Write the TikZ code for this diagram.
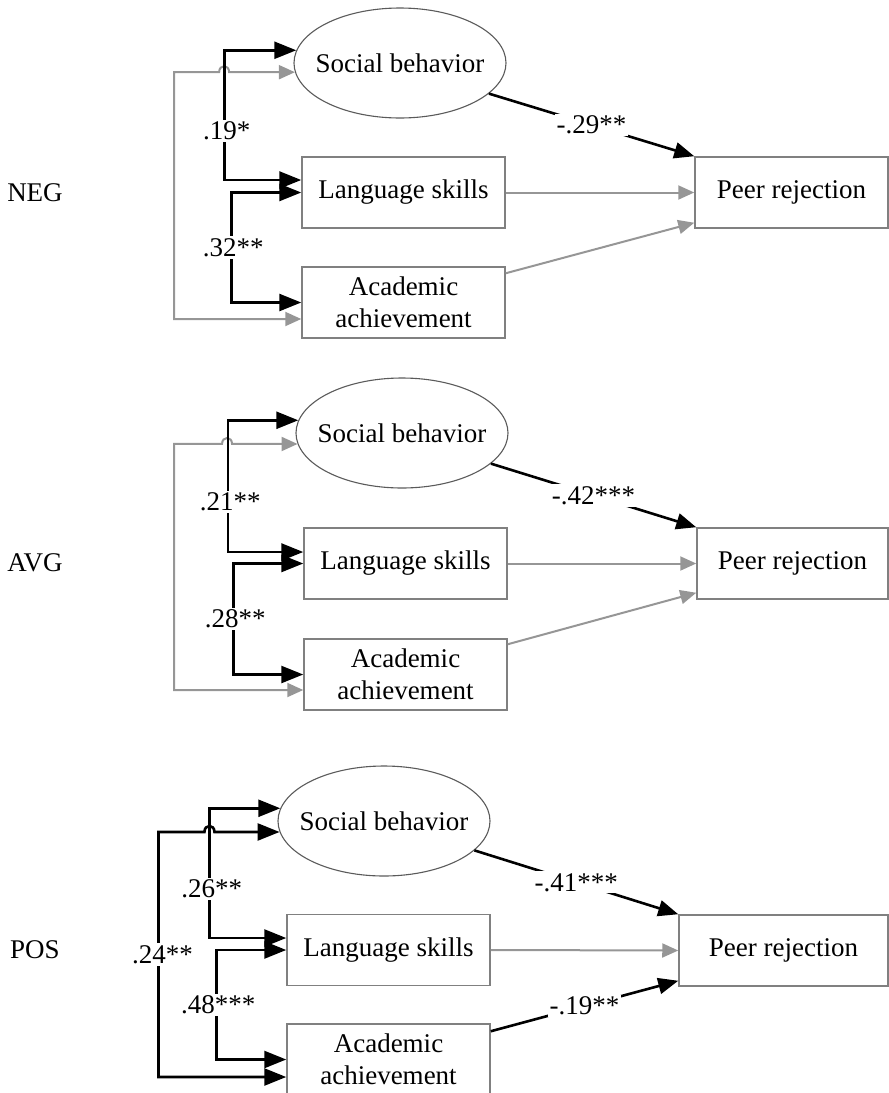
\documentclass[tikz,border=0pt]{standalone}
\usepackage{fontspec}
\setmainfont{Liberation Serif}
\usetikzlibrary{arrows.meta,shapes.geometric}
\definecolor{boxgray}{RGB}{128,128,128}
\definecolor{ellgray}{RGB}{90,90,90}
\definecolor{arrgray}{RGB}{150,150,150}
\begin{document}
\begin{tikzpicture}[x=1pt,y=-1pt,
  every node/.style={font=\fontsize{27}{32}\selectfont},
  box/.style={draw=boxgray,line width=1.5pt,minimum height=71pt,minimum width=203pt,inner sep=0pt,align=center},
  ell/.style={ellipse,draw=ellgray,line width=1.1pt,minimum width=212pt,minimum height=110pt,inner sep=0pt},
  lbl/.style={fill=white,inner sep=2pt},
  vlbl/.style={lbl,xshift=2pt},
  bk/.style={line width=2.6pt},
  bkboth/.style={bk,{Triangle[length=22pt,width=17pt]}-{Triangle[length=22pt,width=17pt]}},
  bkone/.style={bk,-{Triangle[length=20pt,width=16pt]}},
  gr/.style={draw=arrgray,line width=2pt},
  grone/.style={gr,-{Triangle[length=16pt,width=14pt]}},
  grboth/.style={gr,{Triangle[length=16pt,width=14pt]}-{Triangle[length=16pt,width=14pt]}},
]
\useasboundingbox (0,0) rectangle (889,1093);

% ---------- NEG ----------
\node[ell,label=center:Social behavior] (SB1) at (400,63) {};
\node[box] (LS1) at (403.5,192.5) {Language skills};
\node[box] (AA1) at (403.5,302.5) {Academic\\achievement};
\node[box,minimum width=193pt] (PR1) at (791.5,192.5) {Peer rejection};
\node (G1) at (35,193) {NEG};

\draw[bkone] (SB1.341) -- node[lbl]{-.29**} (PR1.north west);
\draw[grone] (LS1.east) -- (PR1.west);
\draw[grone] ([yshift=-7pt]AA1.north east) -- ([yshift=6pt]PR1.south west);
\draw[grboth] (SB1.185.5) -- ++(-65.8,0) .. controls +(0,-8) and +(0,-8) .. ++(-10,0) -- ++(-45,0) |- ([yshift=-16.5pt]AA1.west);
\draw[bkboth] (SB1.173.4) -- ++(-71.5,0) |- node[vlbl,pos=0.31]{.19*} ([yshift=12.5pt]LS1.west);
\draw[bkboth] (LS1.west) -- ++(-70,0) |- node[vlbl,pos=0.25]{.32**} (AA1.west);

% ---------- AVG ----------
\node[ell,label=center:Social behavior] (SB2) at (402,433) {};
\node[box] (LS2) at (405.5,563.5) {Language skills};
\node[box] (AA2) at (405.5,674.5) {Academic\\achievement};
\node[box,minimum width=191pt] (PR2) at (792.5,563.5) {Peer rejection};
\node (G2) at (35,563) {AVG};

\draw[bkone] (SB2.341.6) -- node[lbl]{-.42***} (PR2.north west);
\draw[grone] (LS2.east) -- (PR2.west);
\draw[grone] ([yshift=-6pt]AA2.north east) -- ([yshift=7pt]PR2.south west);
\draw[grboth] (SB2.186.6) -- ++(-65.5,0) .. controls +(0,-8) and +(0,-8) .. ++(-10,0) -- ++(-48,0) |- ([yshift=-15.5pt]AA2.west);
\draw[bkboth] (SB2.173.95) -- ++(-70.1,0) |- node[vlbl,pos=0.31]{.21**} ([yshift=11.5pt]LS2.west);
\draw[bkboth] (LS2.west) -- ++(-70,0) |- node[vlbl,pos=0.25]{.28**} (AA2.west);

% ---------- POS ----------
\node[ell,label=center:Social behavior] (SB3) at (384,821) {};
\node[box] (LS3) at (388.5,950) {Language skills};
\node[box] (AA3) at (388.5,1059.5) {Academic\\achievement};
\node[box,minimum width=209pt] (PR3) at (783.5,950.5) {Peer rejection};
\node (G3) at (35,950) {POS};

\draw[bkone] (SB3.342) -- node[lbl]{-.41***} (PR3.north west);
\draw[grone] (LS3.east) -- (PR3.west);
\draw[bkone] ([yshift=-8pt]AA3.north east) -- node[lbl]{-.19**} ([yshift=6pt]PR3.south west);
\draw[bkboth] (SB3.186.05) -- ++(-65.1,0) .. controls +(0,-8) and +(0,-8) .. ++(-10,0) -- ++(-46,0) |- node[lbl,pos=0.25,xshift=4pt]{.24**} ([yshift=-17.5pt]AA3.west);
\draw[bkboth] (SB3.173.4) -- ++(-70.55,0) |- node[vlbl,pos=0.31]{.26**} ([yshift=12pt]LS3.west);
\draw[bkboth] (LS3.west) -- ++(-70,0) |- node[vlbl,pos=0.25]{.48***} (AA3.west);
\end{tikzpicture}
\end{document}
